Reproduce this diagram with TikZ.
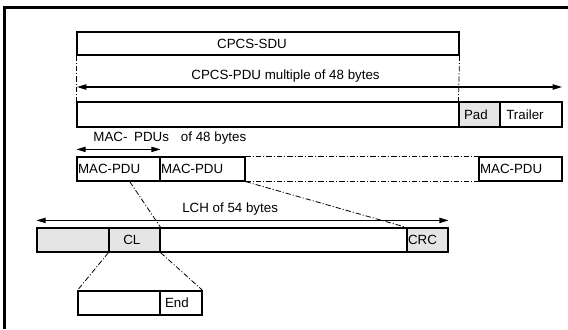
\documentclass[tikz,border=0pt]{standalone}
\usepackage{fontspec}
\setmainfont{Liberation Sans}
\usetikzlibrary{fit,arrows.meta}
\definecolor{fldgray}{gray}{0.9}

\begin{document}
\begin{tikzpicture}[x=0.75pt,y=-0.75pt,font=\fontsize{10}{12}\selectfont,
  fld/.style={draw,line width=0.9pt,inner sep=0pt},
  gfld/.style={fld,fill=fldgray},
  lft/.style={anchor=west,inner sep=1pt},
  mid/.style={anchor=center,inner sep=0pt},
  split/.style={line width=0.6pt,dash pattern=on 4pt off 1.5pt on 0.8pt off 1.5pt},
  span/.style={line width=0.9pt,{Triangle[length=7pt,width=4pt]}-{Triangle[length=7pt,width=4pt]}}]
\useasboundingbox (0,0) rectangle (568,329);
\draw[line width=2.5pt] (4.75,329) -- (4.75,7.5) -- (568,7.5);
% CPCS level
\node [fld,fit={(77,32) (459,55)},label={[mid,xshift=-12pt]center:CPCS-SDU}] (sdu) {};
\node [fld,fit={(77,102) (459,127)}] (pdu) {};
\node [gfld,fit={(459,102) (500,127)},label={[lft,xshift=3pt]west:Pad}] (pad) {};
\node [fld,fit={(500,102) (562,127)},label={[lft,xshift=4pt]west:Trailer}] (trl) {};
\draw[split] (sdu.south west) -- (pdu.north west);
\draw[split] (sdu.south east) -- (pad.north west);
\coordinate (pl) at (77,87);
\coordinate (pr) at (562,87);
\draw[span] (pl) -- node[pos=0.43,above=0pt] {CPCS-PDU multiple of 48 bytes} (pr);
% MAC level
\node [fld,fit={(77,157) (160,181)},label={[lft]west:MAC-PDU}] (mac1) {};
\node [fld,fit={(160,157) (245,181)},label={[lft]west:MAC-PDU}] (mac2) {};
\node [fld,fit={(479,157) (562,181)},label={[lft]west:MAC-PDU}] (mac3) {};
\draw[split] (mac2.north east) -- (mac3.north west);
\draw[split] (mac2.south east) -- (mac3.south west);
\draw[span] ([yshift=5.25pt]mac1.north west) -- node[pos=0,anchor=south west,xshift=9pt] {MAC-\hspace{5pt}PDUs\hspace{9pt}of 48 bytes} ([yshift=5.25pt]mac1.north east);
% LCH level
\node [gfld,fit={(37,228) (109,252)}] (hd) {};
\node [gfld,fit={(109,228) (160,252)},label={[mid,xshift=-2pt]center:CL}] (cl) {};
\node [fld,fit={(160,228) (407,252)}] (pay) {};
\node [gfld,fit={(407,228) (448,252)},label={[lft]west:CRC}] (crc) {};
\draw[span] ([yshift=5.25pt]hd.north west) -- node[pos=0.47,above=0pt] {LCH of 54 bytes} ([yshift=5.25pt]crc.north east);
\draw[split] ([xshift=40pt]mac1.south west) -- (cl.north east);
\draw[split] (mac2.south east) -- (crc.north west);
% CL detail
\node [fld,fit={(78,291) (160,315)}] (lo) {};
\node [fld,fit={(160,291) (202,315)},label={[lft,xshift=3pt]west:End}] (end) {};
\draw[split] (cl.south west) -- (lo.north west);
\draw[split] (cl.south east) -- (end.north east);
\end{tikzpicture}
\end{document}
